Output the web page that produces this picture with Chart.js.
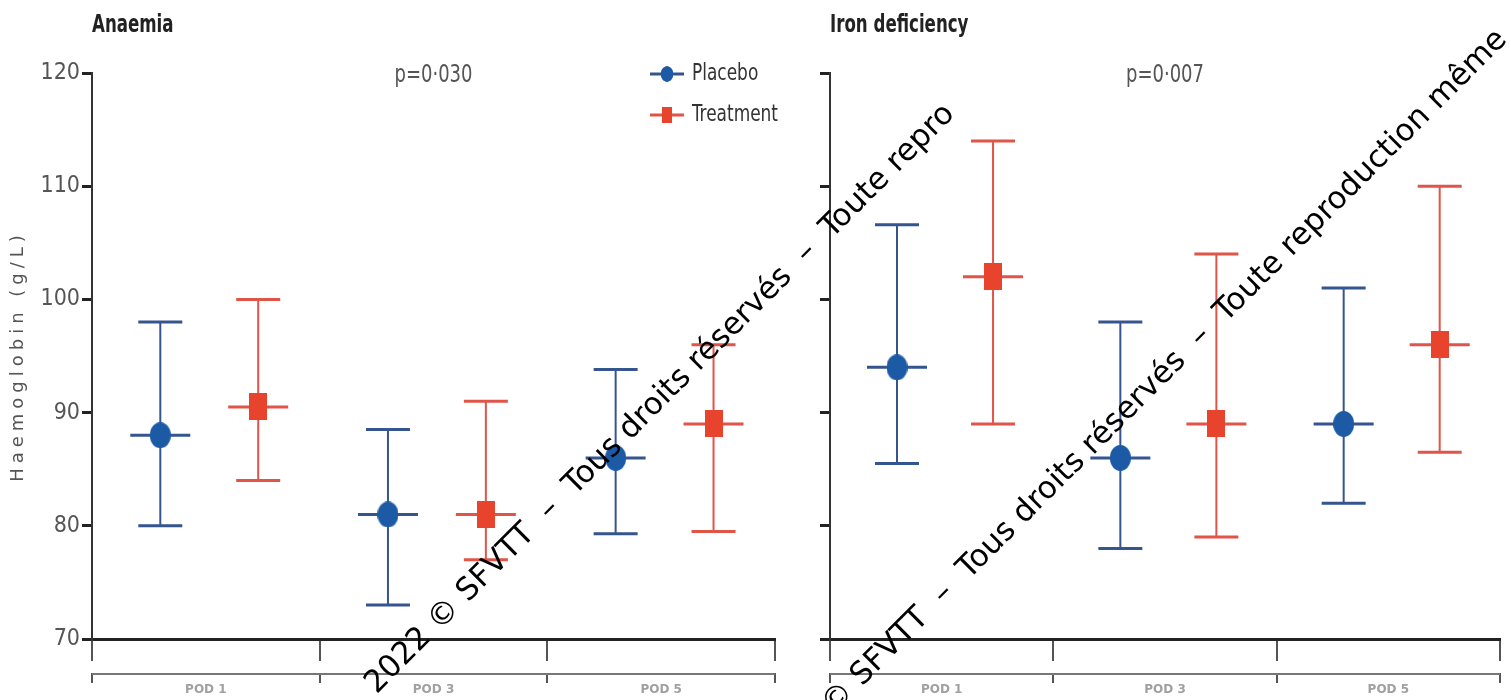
<!DOCTYPE html>
<html>
<head>
<meta charset="utf-8">
<script src="https://cdn.jsdelivr.net/npm/chart.js@4.4.1/dist/chart.umd.min.js"></script>
<style>
  html, body { margin: 0; padding: 0; background: #fff; overflow: hidden; }
  body { width: 1511px; height: 700px; position: relative; }
  .panel { position: absolute; top: 0; height: 700px; }
  #leftPanel { left: 0; width: 800px; }
  #rightPanel { left: 738px; width: 773px; }
  .wm {
    position: absolute; transform-origin: 0 0; transform: rotate(-45deg);
    font: 31px 'DejaVu Sans', sans-serif; line-height: 31px;
    white-space: pre; color: #000; pointer-events: none;
  }
</style>
</head>
<body>
<div class="panel" id="leftPanel"><canvas id="anaemiaChart"></canvas></div>
<div class="panel" id="rightPanel"><canvas id="ironChart"></canvas></div>
<div class="wm" style="left:358px;top:676px">2022 © SFVTT  –  Tous droits réservés  –  Toute repro</div>
<div class="wm" style="left:752px;top:760px">2022 © SFVTT  –  Tous droits réservés  –  Toute reproduction même</div>

<script>
// -------------------------------
// DATA
// -------------------------------
const categories = ['POD 1', 'POD 3', 'POD 5'];
const seriesNames = ['Placebo', 'Treatment'];
const panelTitles = ['Anaemia', 'Iron deficiency'];
const pValues = ['p=0·030', 'p=0·007'];
const yTicks = [70, 80, 90, 100, 110, 120];

// Anaemia
const anaemiaPlacebo = [88, 81, 86];
const anaemiaPlaceboLow = [80, 73, 79.3];
const anaemiaPlaceboHigh = [98, 88.5, 93.8];
const anaemiaTreatment = [90.5, 81, 89];
const anaemiaTreatmentLow = [84, 77, 79.5];
const anaemiaTreatmentHigh = [100, 91, 96];

// Iron deficiency
const ironPlacebo = [94, 86, 89];
const ironPlaceboLow = [85.5, 78, 82];
const ironPlaceboHigh = [106.6, 98, 101];
const ironTreatment = [102, 89, 96];
const ironTreatmentLow = [89, 79, 86.5];
const ironTreatmentHigh = [114, 104, 110];

// -------------------------------
// STYLE
// -------------------------------
const BLUE = '#1c5aa6';
const BLUE_LINE = '#35558f';
const RED = '#e8432d';
const RED_LINE = '#e05547';
const COND = "'DejaVu Sans Condensed', 'DejaVu Sans', sans-serif";
const DODGE = [-0.2, 0.23]; // placebo left, treatment right of category centre

function ellipseImg(w, h, color) {
    const c = document.createElement('canvas');
    c.width = w; c.height = h;
    const g = c.getContext('2d');
    g.fillStyle = color;
    g.beginPath();
    g.ellipse(w / 2, h / 2, w / 2, h / 2, 0, 0, Math.PI * 2);
    g.fill();
    return c;
}
function rectImg(w, h, color) {
    const c = document.createElement('canvas');
    c.width = w; c.height = h;
    const g = c.getContext('2d');
    g.fillStyle = color;
    g.fillRect(0, 0, w, h);
    return c;
}
const placeboMarker = ellipseImg(21, 26, BLUE);
const treatmentMarker = rectImg(18, 27, RED);

// squeezed text, the original uses a condensed face
function narrowText(ctx, text, x, y, font, color, align, sx) {
    ctx.save();
    ctx.translate(x, y);
    ctx.scale(sx, 1);
    ctx.font = font;
    ctx.fillStyle = color;
    ctx.textAlign = align;
    ctx.textBaseline = 'middle';
    ctx.fillText(text, 0, 0);
    ctx.restore();
}

// error bars: whisker, caps and a horizontal bar through the mean
const errorBars = {
    id: 'errorBars',
    beforeDatasetsDraw(chart) {
        const { ctx } = chart;
        const y = chart.scales.y;
        chart.data.datasets.forEach((ds, di) => {
            chart.getDatasetMeta(di).data.forEach((pt, i) => {
                const x = pt.x;
                const yl = y.getPixelForValue(ds.low[i]);
                const yh = y.getPixelForValue(ds.high[i]);
                ctx.save();
                ctx.strokeStyle = ds.barColor;
                ctx.lineWidth = 2;
                ctx.beginPath();
                ctx.moveTo(x, yl); ctx.lineTo(x, yh);
                ctx.stroke();
                ctx.lineWidth = 3;
                ctx.beginPath();
                ctx.moveTo(x - 22, yl); ctx.lineTo(x + 22, yl);
                ctx.moveTo(x - 22, yh); ctx.lineTo(x + 22, yh);
                ctx.moveTo(x - 30, pt.y); ctx.lineTo(x + 30, pt.y);
                ctx.stroke();
                ctx.restore();
            });
        });
    }
};

// titles, p-value, legend, y title and the lower axis rule
const panelText = {
    id: 'panelText',
    afterDraw(chart, args, o) {
        const { ctx, chartArea: a } = chart;
        ctx.save();

        narrowText(ctx, o.title, a.left, 25, 'bold 25px ' + COND, '#222', 'left', 0.74);
        narrowText(ctx, o.pValue, (a.left + a.right) / 2, 75, '25px ' + COND, '#555', 'center', 0.8);

        // second rule under the x axis
        ctx.strokeStyle = '#777';
        ctx.lineWidth = 2;
        ctx.beginPath();
        ctx.moveTo(a.left, 674); ctx.lineTo(a.right, 674);
        ctx.stroke();

        if (o.yTitle) {
            ctx.save();
            ctx.translate(18, (a.top + a.bottom) / 2);
            ctx.rotate(-Math.PI / 2);
            ctx.fillStyle = '#555';
            ctx.font = "18px 'DejaVu Sans', sans-serif";
            ctx.letterSpacing = '5px';
            ctx.textAlign = 'center';
            ctx.textBaseline = 'middle';
            ctx.fillText(o.yTitle, 0, 0);
            ctx.restore();
        }

        if (o.legend) {
            const lx = a.right - 125;
            const rows = [[BLUE_LINE, placeboMarker, 74], [RED_LINE, treatmentMarker, 115]];
            rows.forEach(([line, marker, ly], k) => {
                ctx.strokeStyle = line;
                ctx.lineWidth = 3;
                ctx.beginPath();
                ctx.moveTo(lx, ly); ctx.lineTo(lx + 34, ly);
                ctx.stroke();
                ctx.drawImage(marker, lx + 17 - marker.width * 0.3, ly - marker.height * 0.3,
                    marker.width * 0.6, marker.height * 0.6);
                narrowText(ctx, seriesNames[k], lx + 42, ly, '23px ' + COND, '#333', 'left', 0.82);
            });
        }
        ctx.restore();
    }
};

function makePanel(canvasId, idx, placebo, pLow, pHigh, treat, tLow, tHigh, opts) {
    const toPoints = (vals, d) => vals.map((v, i) => ({ x: i + d, y: v }));
    return new Chart(document.getElementById(canvasId), {
        type: 'line',
        data: {
            labels: categories,
            datasets: [
                {
                    label: seriesNames[0],
                    data: toPoints(placebo, DODGE[0]),
                    low: pLow, high: pHigh, barColor: BLUE_LINE,
                    xAxisID: 'xd',
                    showLine: false,
                    pointStyle: placeboMarker,
                    pointRadius: 10
                },
                {
                    label: seriesNames[1],
                    data: toPoints(treat, DODGE[1]),
                    low: tLow, high: tHigh, barColor: RED_LINE,
                    xAxisID: 'xd',
                    showLine: false,
                    pointStyle: treatmentMarker,
                    pointRadius: 10
                }
            ]
        },
        options: {
            responsive: true,
            maintainAspectRatio: false,
            animation: false,
            layout: { padding: { top: 73, right: opts.padRight, left: 0, bottom: 0 } },
            plugins: {
                legend: { display: false },
                tooltip: { enabled: false },
                panelText: {
                    title: panelTitles[idx],
                    pValue: pValues[idx],
                    legend: opts.legend,
                    yTitle: opts.yTitle
                }
            },
            scales: {
                x: {
                    type: 'category',
                    labels: categories,
                    offset: true,
                    afterFit: s => { s.height = 61; },
                    grid: {
                        offset: true,
                        drawOnChartArea: false,
                        tickLength: 44,
                        tickBorderDash: [20, 12, 12],
                        color: '#555',
                        lineWidth: 2
                    },
                    border: { display: true, color: '#222', width: 3 },
                    ticks: {
                        padding: 0,
                        color: '#a0a0a0',
                        font: { family: "'DejaVu Sans', sans-serif", size: 12, weight: 'bold' }
                    }
                },
                xd: {
                    type: 'linear',
                    display: false,
                    min: -0.5,
                    max: 2.5
                },
                y: {
                    min: yTicks[0],
                    max: yTicks[yTicks.length - 1],
                    afterFit: s => { s.width = 92; },
                    afterBuildTicks: s => { s.ticks = yTicks.map(v => ({ value: v })); },
                    grid: {
                        drawOnChartArea: false,
                        tickLength: 10,
                        color: '#222',
                        lineWidth: 3
                    },
                    border: { display: true, color: '#333', width: 2 },
                    ticks: {
                        padding: 2,
                        color: '#555',
                        font: { family: COND, size: 23 },
                        callback: v => opts.yLabels ? v : ''
                    }
                }
            }
        },
        plugins: [errorBars, panelText]
    });
}

makePanel('anaemiaChart', 0,
    anaemiaPlacebo, anaemiaPlaceboLow, anaemiaPlaceboHigh,
    anaemiaTreatment, anaemiaTreatmentLow, anaemiaTreatmentHigh,
    { padRight: 25, legend: true, yLabels: true, yTitle: 'Haemoglobin (g/L)' });

makePanel('ironChart', 1,
    ironPlacebo, ironPlaceboLow, ironPlaceboHigh,
    ironTreatment, ironTreatmentLow, ironTreatmentHigh,
    { padRight: 0, legend: false, yLabels: false, yTitle: '' });
</script>
</body>
</html>
